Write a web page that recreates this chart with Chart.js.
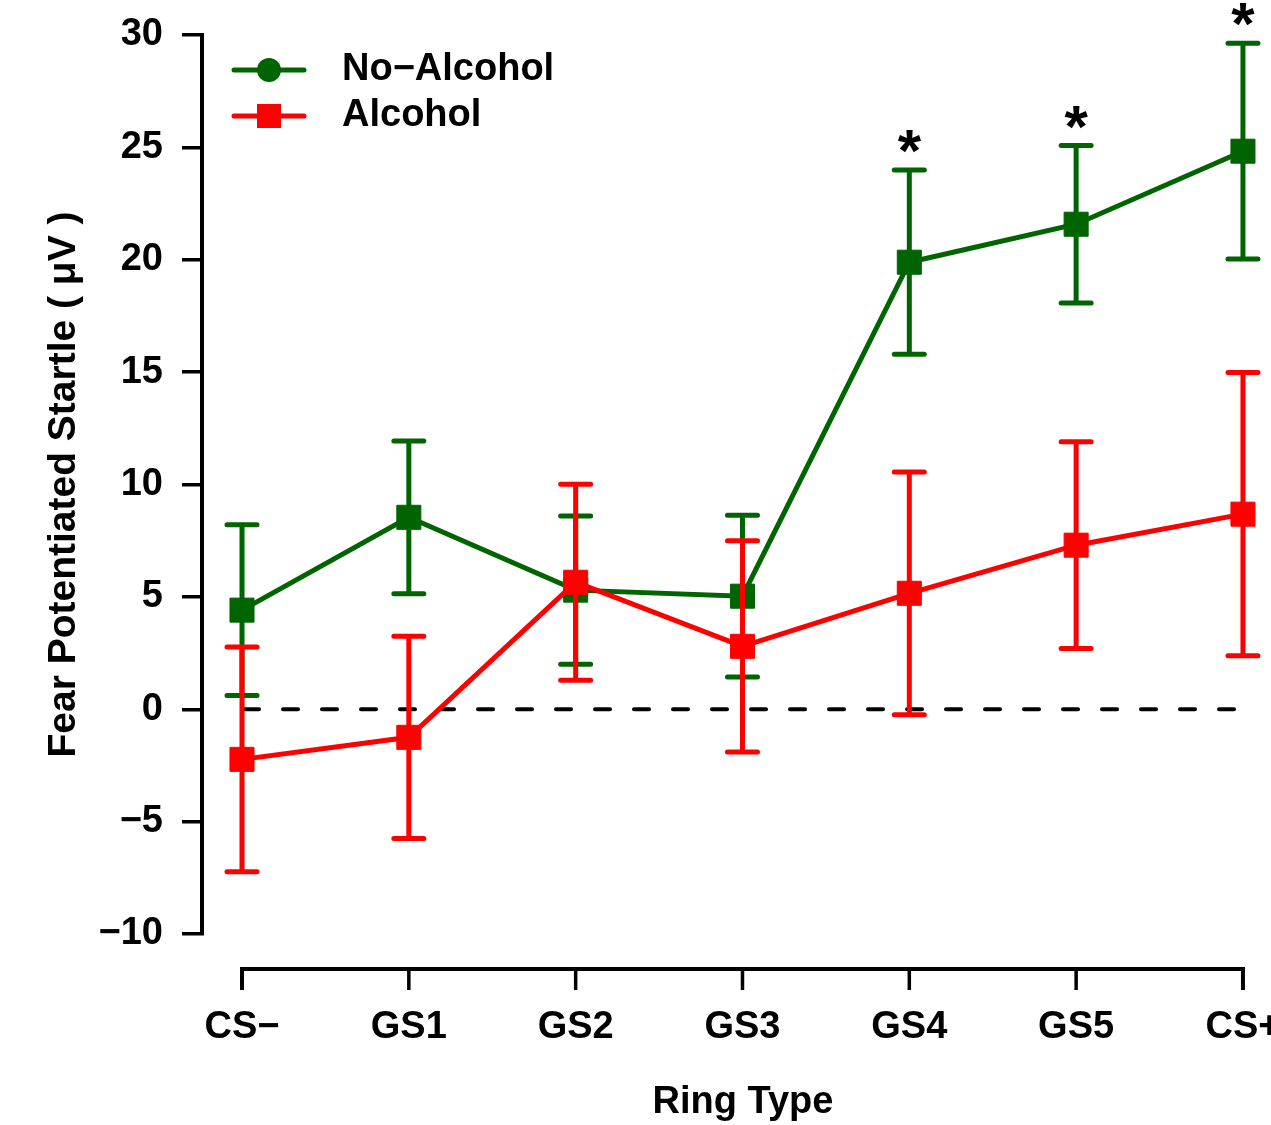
<!DOCTYPE html>
<html>
<head>
<meta charset="utf-8">
<script src="https://cdn.jsdelivr.net/npm/chart.js"></script>
<style>
  html, body { margin:0; padding:0; background:#fff; overflow:hidden; }
  #wrap { position:relative; width:1302px; height:1125px; }
</style>
</head>
<body>
<div id="wrap"><canvas id="fps"></canvas></div>
<script>
// data
const ringTypes = ['CS\u2212','GS1','GS2','GS3','GS4','GS5','CS+'];
const noAlcoholMean = [4.41, 8.54, 5.30, 5.03, 19.89, 21.58, 24.83];
const noAlcoholErr  = [3.80, 3.40, 3.30, 3.60, 4.10, 3.50, 4.80];
const alcoholMean   = [-2.23, -1.25, 5.65, 2.80, 5.16, 7.30, 8.68];
const alcoholErr    = [5.00, 4.50, 4.36, 4.70, 5.40, 4.60, 6.30];
const significant   = [false, false, false, false, true, true, true];
const yTicks = [-10, -5, 0, 5, 10, 15, 20, 25, 30];

const green = '#006400';
const red = '#FF0000';
const font = "'Liberation Sans', Arial, Helvetica, sans-serif";

// x range: CS- sits 40px right of the y axis, CS+ runs off the page edge
const xMin = -0.2398, xMax = 6.246;

function legendIcon(color, shape){
  const c = document.createElement('canvas');
  c.width = 113; c.height = 30;
  const g = c.getContext('2d');
  g.strokeStyle = color; g.fillStyle = color; g.lineWidth = 5; g.lineCap = 'round';
  g.beginPath(); g.moveTo(24, 15); g.lineTo(94, 15); g.stroke();
  if(shape === 'circle'){ g.beginPath(); g.arc(59, 15, 12, 0, Math.PI*2); g.fill(); }
  else { g.fillRect(47, 3, 24, 24); }
  return c;
}
const legendIcons = [legendIcon(green, 'circle'), legendIcon(red, 'rect')];

const errs = [noAlcoholErr, alcoholErr];

const errorBars = {
  id: 'errorBars',
  beforeDatasetsDraw(chart){
    // R-style detached x axis + dashed zero line
    const {ctx, chartArea} = chart;
    const xs = chart.scales.x, ys = chart.scales.y;
    const x0 = xs.getPixelForValue(0), x6 = xs.getPixelForValue(ringTypes.length - 1);
    const yl = chartArea.bottom + 35, yt = yl + 21;
    ctx.save();
    ctx.strokeStyle = '#000'; ctx.lineWidth = 4; ctx.lineJoin = 'miter';
    ctx.beginPath(); ctx.moveTo(x0, yt); ctx.lineTo(x0, yl); ctx.lineTo(x6, yl); ctx.lineTo(x6, yt); ctx.stroke();
    ctx.lineWidth = 3.5;
    for(let i = 1; i < ringTypes.length - 1; i++){
      const px = xs.getPixelForValue(i);
      ctx.beginPath(); ctx.moveTo(px, yl); ctx.lineTo(px, yt); ctx.stroke();
    }
    const y0 = ys.getPixelForValue(0);
    ctx.lineWidth = 4; ctx.lineCap = 'round'; ctx.setLineDash([15, 24]);
    ctx.beginPath(); ctx.moveTo(x0 + 2, y0); ctx.lineTo(x6, y0); ctx.stroke();
    ctx.restore();
  },
  beforeDatasetDraw(chart, args){
    const {ctx} = chart;
    const xs = chart.scales.x, ys = chart.scales.y;
    const ds = chart.data.datasets[args.index];
    const e = errs[args.index];
    ctx.save();
    ctx.strokeStyle = ds.borderColor; ctx.lineWidth = 5; ctx.lineCap = 'round';
    ds.data.forEach((p, i) => {
      const px = xs.getPixelForValue(p.x);
      const top = ys.getPixelForValue(p.y + e[i]), bot = ys.getPixelForValue(p.y - e[i]);
      ctx.beginPath();
      ctx.moveTo(px, top); ctx.lineTo(px, bot);
      ctx.moveTo(px - 15, top); ctx.lineTo(px + 15, top);
      ctx.moveTo(px - 15, bot); ctx.lineTo(px + 15, bot);
      ctx.stroke();
    });
    ctx.restore();
  },
  afterDatasetsDraw(chart){
    const {ctx} = chart;
    const xs = chart.scales.x, ys = chart.scales.y;
    ctx.save();
    ctx.fillStyle = '#000'; ctx.font = 'bold 60px ' + font;
    ctx.textAlign = 'center'; ctx.textBaseline = 'alphabetic';
    significant.forEach((s, i) => {
      if(!s) return;
      const top = ys.getPixelForValue(noAlcoholMean[i] + noAlcoholErr[i]);
      ctx.fillText('*', xs.getPixelForValue(i), top + 1);
    });
    ctx.restore();
  }
};

new Chart(document.getElementById('fps'), {
  type: 'line',
  data: {
    datasets: [
      { label: 'No\u2212Alcohol', data: noAlcoholMean.map((y, i) => ({ x: i, y })),
        borderColor: green, backgroundColor: green,
        borderWidth: 5, tension: 0, pointStyle: 'rect', pointRadius: 17, pointBorderWidth: 1,
        pointBackgroundColor: green, pointBorderColor: green, order: 2, clip: false },
      { label: 'Alcohol', data: alcoholMean.map((y, i) => ({ x: i, y })),
        borderColor: red, backgroundColor: red,
        borderWidth: 5, tension: 0, pointStyle: 'rect', pointRadius: 17, pointBorderWidth: 1,
        pointBackgroundColor: red, pointBorderColor: red, order: 1, clip: false }
    ]
  },
  options: {
    responsive: true,
    maintainAspectRatio: false,
    animation: false,
    events: [],
    layout: { padding: { top: 35, left: 0, right: 0, bottom: 0 } },
    scales: {
      x: {
        type: 'linear', min: xMin, max: xMax,
        afterBuildTicks(s){ s.ticks = ringTypes.map((_, i) => ({ value: i })); },
        afterFit(s){ s.height = 191; s.paddingLeft = 0; s.paddingRight = 0; },
        grid: { display: false, drawTicks: true, tickLength: 71 },
        border: { display: false },
        ticks: { autoSkip: false, maxRotation: 0, padding: 0, color: '#000',
                 font: { family: font, size: 38, weight: 'bold' },
                 callback: (v) => ringTypes[v] },
        title: { display: true, text: 'Ring Type', color: '#000',
                 font: { family: font, size: 38, weight: 'bold' }, padding: { top: 0, bottom: 0 } }
      },
      y: {
        min: -10, max: 30,
        afterBuildTicks(s){ s.ticks = yTicks.map(v => ({ value: v })); },
        afterFit(s){ s.width = 202; s.paddingTop = 0; s.paddingBottom = 0; },
        grid: { drawOnChartArea: false, drawTicks: true, tickLength: 20, color: '#000', lineWidth: 3.5 },
        border: { display: true, color: '#000', width: 4 },
        ticks: { padding: 19, color: '#000', font: { family: font, size: 38, weight: 'bold' },
                 callback: (v) => v < 0 ? '\u2212' + Math.abs(v) : String(v) },
        title: { display: true, text: 'Fear Potentiated Startle ( \u03BCV )', color: '#000',
                 font: { family: font, size: 39, weight: 'bold' }, padding: { top: 41, bottom: 0 } }
      }
    },
    plugins: {
      tooltip: { enabled: false },
      legend: {
        position: 'chartArea', align: 'start',
        title: { display: true, text: ' ', font: { size: 10, lineHeight: 1 }, padding: { top: 33, bottom: 0 } },
        labels: {
          usePointStyle: true, pointStyleWidth: 113, padding: 8, color: '#000',
          font: { family: font, size: 38, weight: 'bold' },
          sort: (a, b) => a.datasetIndex - b.datasetIndex,
          generateLabels(chart){
            const items = Chart.defaults.plugins.legend.labels.generateLabels(chart);
            items.forEach(it => { it.pointStyle = legendIcons[it.datasetIndex]; it.fontColor = '#000'; });
            return items;
          }
        }
      }
    }
  },
  plugins: [errorBars]
});
</script>
</body>
</html>
